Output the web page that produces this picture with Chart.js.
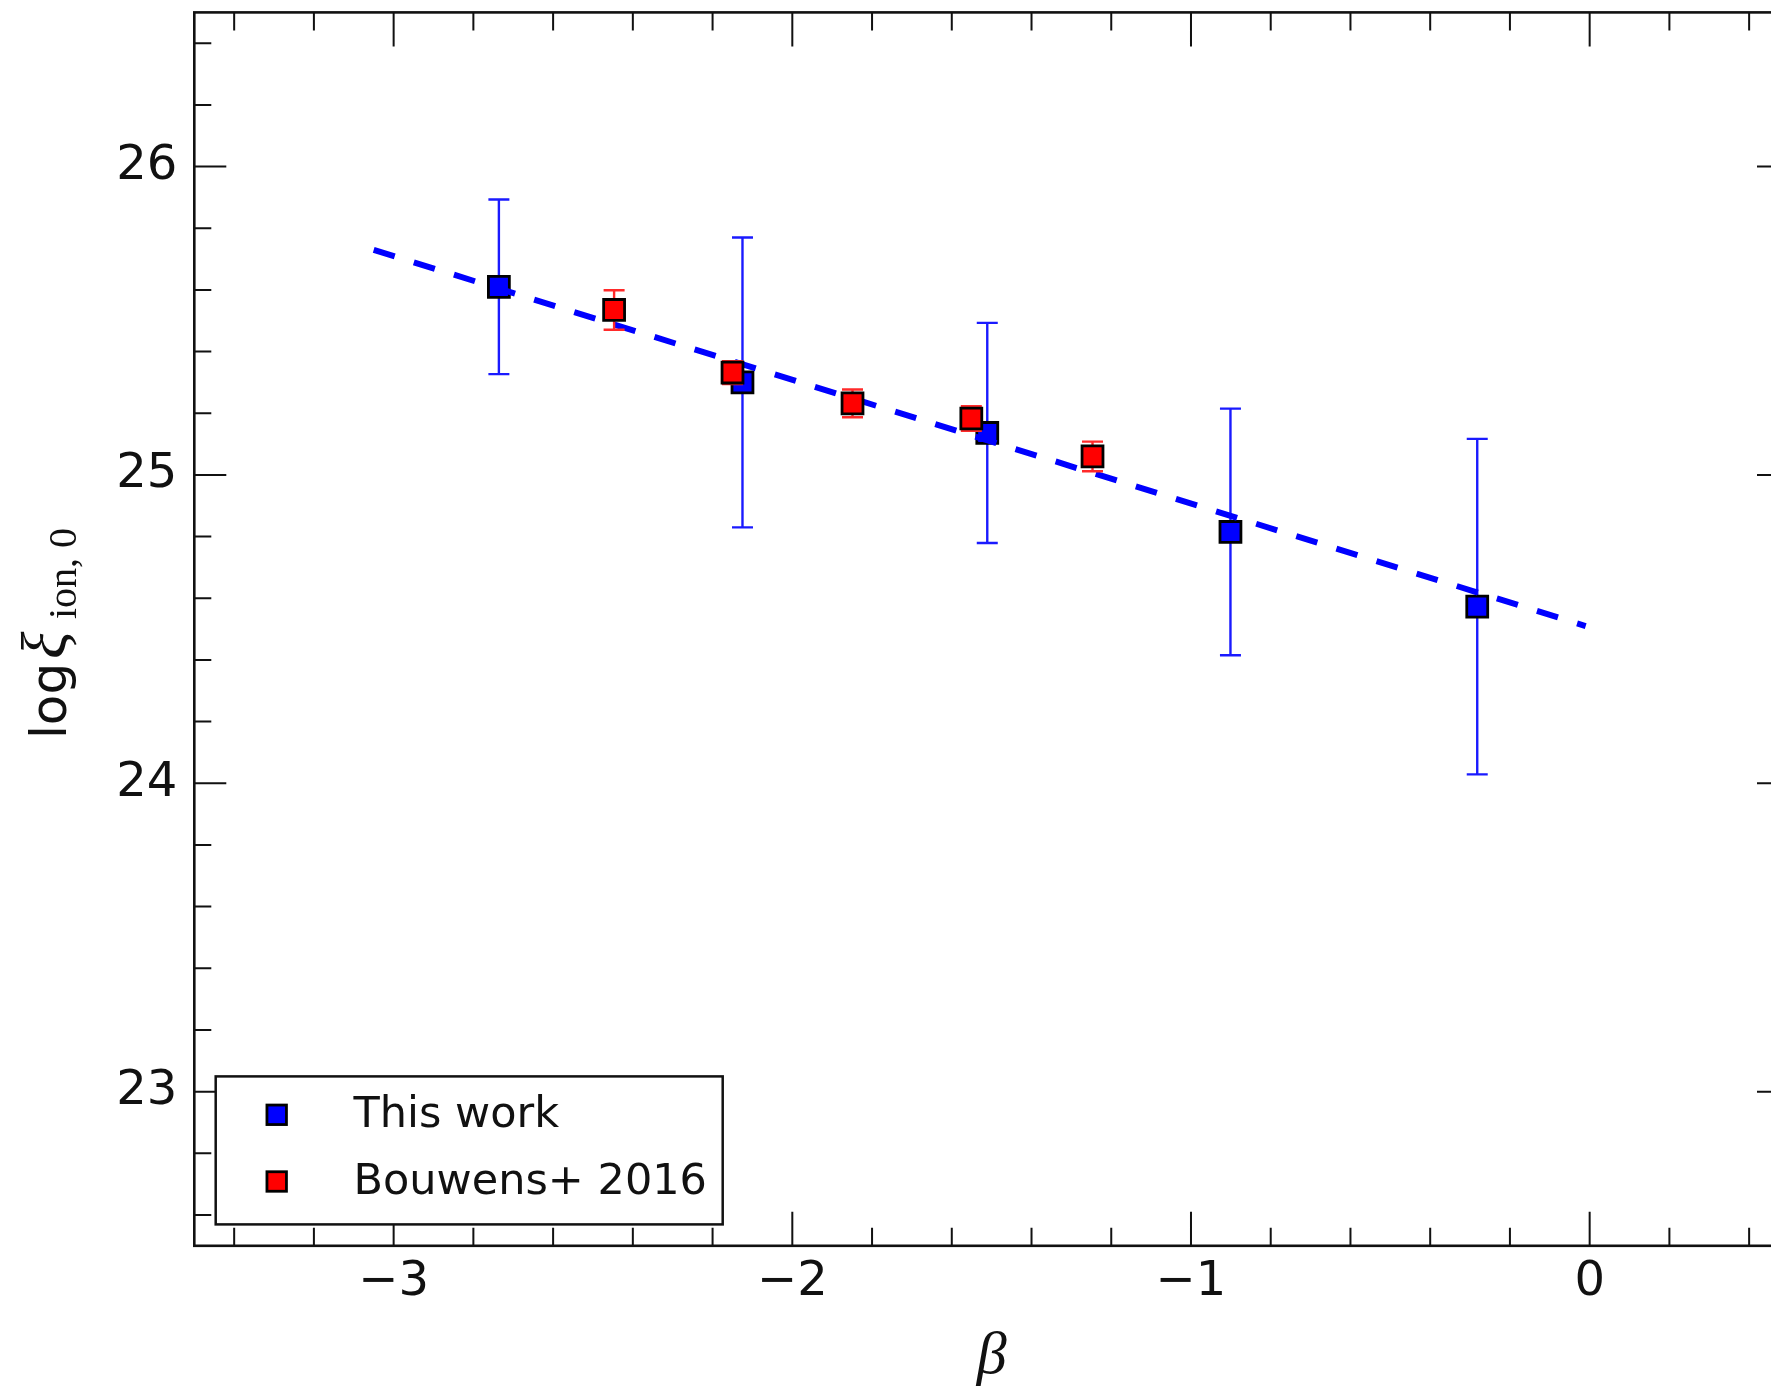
<!DOCTYPE html>
<html>
<head>
<meta charset="utf-8">
<script src="https://cdn.jsdelivr.net/npm/chart.js@4.4.0/dist/chart.umd.min.js"></script>
<style>
  html, body { margin: 0; padding: 0; background: #fff; overflow: hidden; }
  #wrap { width: 1810px; height: 1391px; }
</style>
</head>
<body>
<div id="wrap"><canvas id="myChart" width="1810" height="1391"></canvas></div>
<script>
// This work
const thisWorkBeta = [-2.736, -2.125, -1.511, -0.901, -0.282];
const thisWorkXi = [25.61, 25.30, 25.136, 24.815, 24.573];
const thisWorkErr = [0.283, 0.47, 0.357, 0.40, 0.544];

// Bouwens+ 2016
const bouwensBeta = [-2.447, -2.150, -1.849, -1.551, -1.247];
const bouwensXi = [25.535, 25.332, 25.232, 25.183, 25.060];
const bouwensErr = [0.064, 0.037, 0.045, 0.04, 0.048];

// dashed fit line (end points)
const fitBeta = [-3.05, -0.01];
const fitXi = [25.73, 24.51];

const xTickValues = [-3, -2, -1, 0];
const xTickLabels = ["\u22123", "\u22122", "\u22121", "0"];
const yTickValues = [23, 24, 25, 26];
const yTickLabels = ["23", "24", "25", "26"];
const legendLabels = ["This work", "Bouwens+ 2016"];

const toPoints = (xs, ys) => xs.map((x, i) => ({ x: x, y: ys[i] }));

function drawSquare(ctx, x, y, side, fill) {
  ctx.fillStyle = fill;
  ctx.strokeStyle = "#000";
  ctx.lineWidth = 2.8;
  ctx.fillRect(x - side / 2, y - side / 2, side, side);
  ctx.strokeRect(x - side / 2, y - side / 2, side, side);
}

// matplotlib-like frame, inward ticks, error bars, legend, axis labels
const mplFrame = {
  id: "mplFrame",
  beforeDatasetDraw(chart, args) {
    const ds = chart.data.datasets[args.index];
    if (!ds.err) return;
    const xs = chart.scales.x, ys = chart.scales.y, ctx = chart.ctx;
    const a = chart.chartArea;
    ctx.save();
    ctx.beginPath();
    ctx.rect(a.left, a.top, a.right - a.left, a.bottom - a.top);
    ctx.clip();
    ctx.strokeStyle = ds.errColor;
    ctx.lineWidth = 2.4;
    ds.data.forEach((p, i) => {
      const px = xs.getPixelForValue(p.x);
      const top = ys.getPixelForValue(p.y + ds.err[i]);
      const bot = ys.getPixelForValue(p.y - ds.err[i]);
      ctx.beginPath();
      ctx.moveTo(px, top); ctx.lineTo(px, bot);
      ctx.moveTo(px - 10.5, top); ctx.lineTo(px + 10.5, top);
      ctx.moveTo(px - 10.5, bot); ctx.lineTo(px + 10.5, bot);
      ctx.stroke();
    });
    ctx.restore();
  },
  afterDatasetsDraw(chart) {
    const xs = chart.scales.x, ys = chart.scales.y, ctx = chart.ctx;
    const a = chart.chartArea;
    ctx.save();
    ctx.strokeStyle = "#111";
    ctx.lineWidth = 2;
    ctx.beginPath();
    // x ticks, bottom and top
    for (let k = -17; k <= 2; k++) {
      const v = k * 0.2;
      const px = xs.getPixelForValue(v);
      const len = (k % 5 === 0) ? 34 : 18;
      ctx.moveTo(px, a.bottom); ctx.lineTo(px, a.bottom - len);
      ctx.moveTo(px, a.top); ctx.lineTo(px, a.top + len);
    }
    // y ticks, left and right
    for (let k = 113; k <= 132; k++) {
      const v = k * 0.2;
      const py = ys.getPixelForValue(v);
      const len = (k % 5 === 0) ? 32 : 17;
      ctx.moveTo(a.left, py); ctx.lineTo(a.left + len, py);
      ctx.moveTo(a.right, py); ctx.lineTo(a.right - len, py);
    }
    ctx.stroke();
    ctx.lineWidth = 2.6;
    ctx.strokeRect(a.left, a.top, a.right - a.left, a.bottom - a.top);

    // legend
    const lx = a.left + 21.4, lw = 507, lh = 148;
    const ly = a.bottom - 21.4 - lh;
    ctx.fillStyle = "#fff";
    ctx.fillRect(lx, ly, lw, lh);
    ctx.lineWidth = 2.5;
    ctx.strokeStyle = "#111";
    ctx.strokeRect(lx, ly, lw, lh);
    const rows = [ly + 38.4, ly + 105.1];
    const fills = [chart.data.datasets[2].backgroundColor, chart.data.datasets[0].backgroundColor];
    ctx.font = '43px "DejaVu Sans"';
    ctx.textBaseline = "middle";
    ctx.textAlign = "left";
    rows.forEach((ry, i) => {
      drawSquare(ctx, lx + 61, ry, 19.5, fills[i]);
      ctx.fillStyle = "#111";
      ctx.fillText(legendLabels[i], lx + 137.8, ry + 1);
    });
    ctx.restore();
  },
  afterDraw(chart) {
    const ctx = chart.ctx, a = chart.chartArea;
    ctx.save();
    ctx.fillStyle = "#111";
    ctx.textBaseline = "alphabetic";
    // x label
    ctx.font = 'italic 60px "Liberation Serif"';
    ctx.textAlign = "center";
    ctx.fillText("\u03b2", (a.left + a.right) / 2, 1373);
    // y label: log xi_{ion, 0}
    ctx.textAlign = "left";
    const cy = (a.top + a.bottom) / 2;
    ctx.translate(66, cy + 110);
    ctx.rotate(-Math.PI / 2);
    ctx.font = '50px "DejaVu Sans"';
    ctx.fillText("log", 0, 0);
    ctx.font = 'italic 64px "Liberation Serif"';
    ctx.fillText("\u03be", 80, 0);
    ctx.font = '40px "Liberation Serif"';
    ctx.fillText("ion, 0", 120, 10);
    ctx.restore();
  }
};

const tickFont = { family: "DejaVu Sans", size: 48 };

new Chart(document.getElementById("myChart"), {
  type: "scatter",
  data: {
    datasets: [
      {
        label: legendLabels[1],
        data: toPoints(bouwensBeta, bouwensXi),
        err: bouwensErr,
        errColor: "#ff2a2a",
        pointStyle: "rect",
        pointRadius: 14.8,
        backgroundColor: "#ff0000",
        borderColor: "#000",
        borderWidth: 2.8,
        order: 0
      },
      {
        type: "line",
        label: "fit",
        data: toPoints(fitBeta, fitXi),
        borderColor: "#0000ff",
        borderWidth: 6,
        borderDash: [22, 20],
        pointRadius: 0,
        fill: false,
        order: 1
      },
      {
        label: legendLabels[0],
        data: toPoints(thisWorkBeta, thisWorkXi),
        err: thisWorkErr,
        errColor: "#1a1aff",
        pointStyle: "rect",
        pointRadius: 14.8,
        backgroundColor: "#0000ff",
        borderColor: "#000",
        borderWidth: 2.8,
        order: 2
      }
    ]
  },
  options: {
    responsive: false,
    animation: false,
    events: [],
    layout: { autoPadding: false, padding: { top: 12.4, right: 21, left: 0, bottom: 0 } },
    plugins: { legend: { display: false }, tooltip: { enabled: false } },
    scales: {
      x: {
        type: "linear",
        min: -3.5,
        max: 0.5,
        grid: { display: false, drawTicks: false },
        border: { display: false },
        afterBuildTicks: (scale) => { scale.ticks = xTickValues.map(v => ({ value: v })); },
        afterFit: (scale) => {
          scale.height = 145.2;
          scale.paddingLeft = 0; scale.paddingRight = 0;
        },
        ticks: {
          font: tickFont,
          color: "#111",
          padding: 8,
          maxRotation: 0,
          autoSkip: false,
          callback: (v) => xTickLabels[xTickValues.indexOf(v)]
        }
      },
      y: {
        type: "linear",
        min: 22.5,
        max: 26.5,
        grid: { display: false, drawTicks: false },
        border: { display: false },
        afterBuildTicks: (scale) => { scale.ticks = yTickValues.map(v => ({ value: v })); },
        afterFit: (scale) => {
          scale.width = 194.3;
          scale.paddingTop = 0; scale.paddingBottom = 0;
        },
        ticks: {
          font: tickFont,
          color: "#111",
          padding: 17,
          autoSkip: false,
          callback: (v) => yTickLabels[yTickValues.indexOf(v)]
        }
      }
    }
  },
  plugins: [mplFrame]
});
</script>
</body>
</html>
